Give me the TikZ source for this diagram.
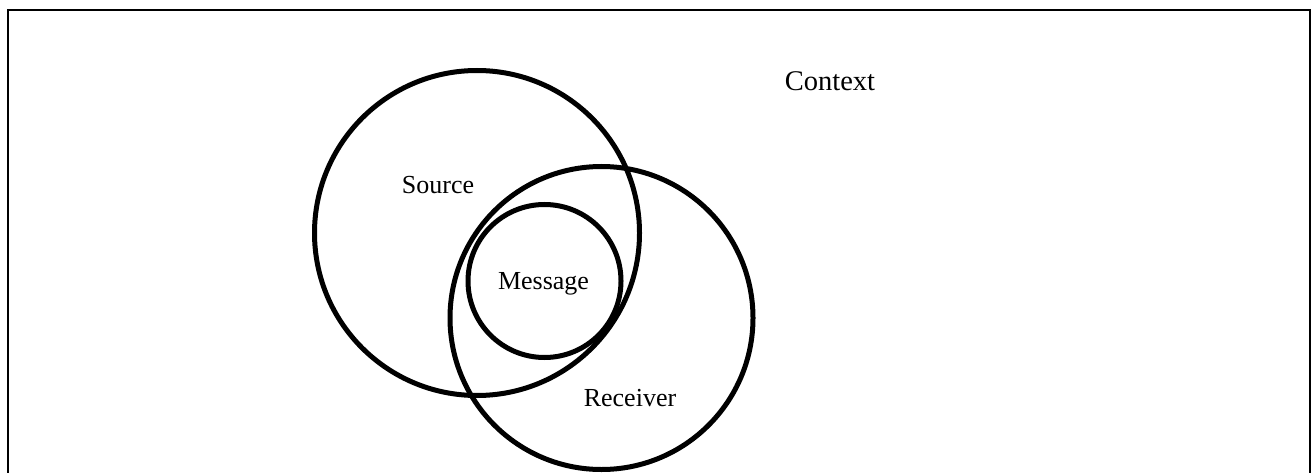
\documentclass[tikz,border=0pt]{standalone}
\usepackage{fontspec}
\setmainfont{Liberation Serif}
\tikzset{
  ring/.style={draw=black, line width=5pt, circle, inner sep=0pt},
  lbl/.style={anchor=base, font=\fontsize{26}{30}\selectfont, inner sep=0pt},
  frame/.style={draw=black, line width=2pt},
}
\begin{document}
\begin{tikzpicture}[x=1pt,y=1pt]
\useasboundingbox (0,0) rectangle (1314,472);
\clip (0,0) rectangle (1314,472);
\fill[white] (0,0) rectangle (1314,472);
\draw[frame] (8,-20) rectangle (1309.5,462);
\node[ring, minimum size=325pt] (src) at (477,239) {};
\node[ring, minimum size=303pt] (rcv) at (601.5,154) {};
\node[ring, minimum size=153pt] (msg) at (544.5,191) {};
\node[lbl, font=\fontsize{28.5}{32}\selectfont] (ctx) at (830,381) {Context};
\node[lbl] (srcl) at (438,278) {Source};
\node[lbl] (msgl) at (543.5,183) {Message};
\node[lbl] (rcvl) at (630,66) {Receiver};
\end{tikzpicture}
\end{document}
